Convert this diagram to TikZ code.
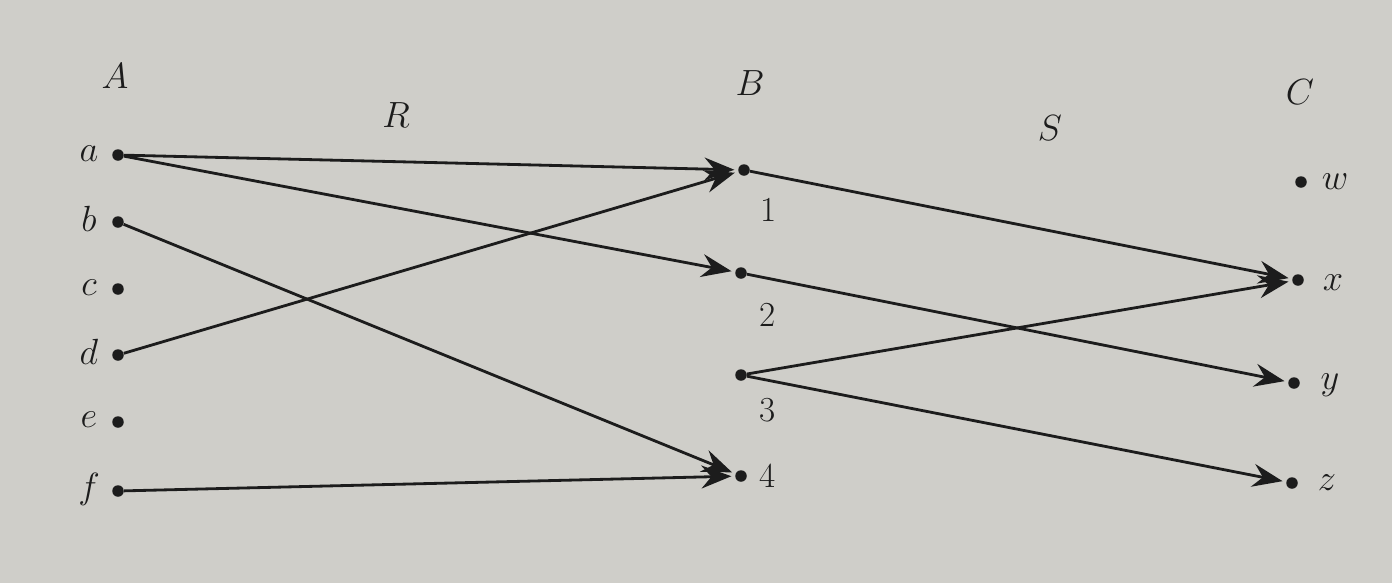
\documentclass[tikz,border=0pt]{standalone}
\usetikzlibrary{arrows.meta}
\definecolor{paper}{RGB}{207,206,201}
\definecolor{ink}{RGB}{28,28,28}
\begin{document}
\begin{tikzpicture}[x=0.02cm,y=-0.02cm,
  pt/.style={circle,fill=ink,inner sep=0pt,minimum size=0.23cm},
  lab/.style={text=ink,font=\fontsize{20}{24}\selectfont,inner sep=0pt},
  arr/.style={draw=ink,line width=1.6pt,-{Stealth[length=0.6cm,width=0.46cm,inset=0.2cm]},shorten >=2pt},
  ln/.style={draw=ink,line width=1.6pt}]
\fill[paper] (0,0) rectangle (1392,583);
\useasboundingbox (0,0) rectangle (1392,583);
% set labels
\node[lab] (lA) at (115,76) {$A$};
\node[lab] (lR) at (396,115) {$R$};
\node[lab] (lB) at (750,83) {$B$};
\node[lab] (lS) at (1050,128) {$S$};
\node[lab] (lC) at (1300,92) {$C$};
% A
\node[pt] (a) at (118,155) {};
\node[pt] (b) at (118,222) {};
\node[pt] (c) at (118,289) {};
\node[pt] (d) at (118,355) {};
\node[pt] (e) at (118,422) {};
\node[pt] (f) at (118,491) {};
\node[lab] (la) at (89,154) {$a$};
\node[lab] (lb) at (89,219) {$b$};
\node[lab] (lc) at (89,288) {$c$};
\node[lab] (ld) at (89,352) {$d$};
\node[lab] (le) at (89,420) {$e$};
\node[lab] (lf) at (89,489) {$f$};
% B
\node[pt] (n1) at (744,170) {};
\node[pt] (n2) at (741,273) {};
\node[pt] (n3) at (741,375) {};
\node[pt] (n4) at (741,476) {};
\node[lab] (l1) at (769,210) {1};
\node[lab] (l2) at (768,315) {2};
\node[lab] (l3) at (768,410) {3};
\node[lab] (l4) at (768,476) {4};
% C
\node[pt] (w) at (1301,182) {};
\node[pt] (x) at (1298,280) {};
\node[pt] (y) at (1294,383) {};
\node[pt] (z) at (1292,483) {};
\node[lab] (lw) at (1335,182) {$w$};
\node[lab] (lx) at (1333,283) {$x$};
\node[lab] (ly) at (1330,385) {$y$};
\node[lab] (lz) at (1327,483) {$z$};
% R
\draw[arr] (a) -- (n1);
\draw[arr] (a) -- (n2);
\draw[arr] (d) -- (n1);
\draw[arr] (b) -- (n4);
\draw[arr] (f) -- (n4);
% S
\draw[arr] (n1) -- (x);
\draw[arr] (n2) -- (y);
\draw[arr] (n3) -- (x);
\draw[arr] (n3) -- (z);
\end{tikzpicture}
\end{document}
